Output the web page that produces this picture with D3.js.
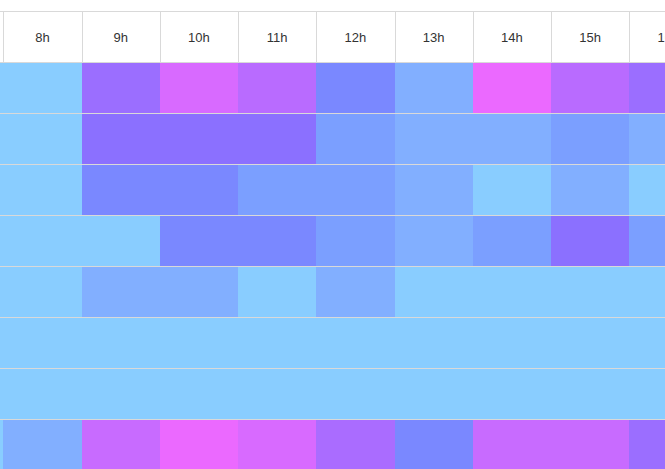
<!DOCTYPE html>
<html lang="en">
<head>
    <meta charset="UTF-8">
    <title>Hourly heatmap</title>
    <script src="https://d3js.org/d3.v7.min.js"></script>
    <style>
        html, body { margin: 0; padding: 0; background: #fff; overflow: hidden; }
        .hour-label { font-family: "Liberation Sans", Arial, sans-serif; font-size: 13px; fill: #333; }
        .grid { stroke: #d9d9d9; stroke-width: 1; shape-rendering: crispEdges; }
        .cell { shape-rendering: crispEdges; }
    </style>
</head>
<body>
<svg width="665" height="469"></svg>
<script>
    // Hours shown in the header (7h and 16h are only partly visible)
    const hours = ["7h", "8h", "9h", "10h", "11h", "12h", "13h", "14h", "15h", "16h"];
    const rows = ["r1", "r2", "r3", "r4", "r5", "r6", "r7", "r8"];

    // Intensity level per row, one value per hour
    const r1 = [0, 0, 5, 9, 7, 3, 1, 10, 7, 5];
    const r2 = [0, 0, 4, 4, 4, 2, 1, 1, 2, 1];
    const r3 = [0, 0, 3, 3, 2, 2, 1, 0, 1, 0];
    const r4 = [0, 0, 0, 3, 3, 2, 1, 2, 4, 2];
    const r5 = [0, 0, 1, 1, 0, 1, 0, 0, 0, 0];
    const r6 = [0, 0, 0, 0, 0, 0, 0, 0, 0, 0];
    const r7 = [0, 0, 0, 0, 0, 0, 0, 0, 0, 0];
    const r8 = [0, 1, 8, 10, 9, 6, 3, 8, 8, 5];
    const values = [r1, r2, r3, r4, r5, r6, r7, r8];

    // colour ramp: light sky blue -> blue -> violet -> magenta
    const palette = ["#89cdff", "#82afff", "#7b9fff", "#7a88ff", "#8b70ff", "#9b6eff",
                     "#aa6cff", "#b96bff", "#c86bff", "#d86aff", "#eb69ff"];

    const svg = d3.select("svg");
    const W = 665, H = 469;
    const colW = 78.25;
    const headTop = 11, headBottom = 62, rowH = 51;

    const x = d3.scaleBand()
        .domain(hours)
        .range([3.3 - colW, 3.3 - colW + colW * hours.length]);

    const y = d3.scaleBand()
        .domain(rows)
        .range([headBottom, headBottom + rowH * rows.length]);

    const color = d3.scaleLinear()
        .domain(d3.range(palette.length))
        .range(palette);

    const cells = [];
    values.forEach((vals, i) => vals.forEach((v, j) => cells.push({ row: rows[i], hour: hours[j], v })));

    // cells (overlap a little so equal neighbours merge)
    svg.append("g").selectAll("rect")
        .data(cells)
        .join("rect")
        .attr("class", "cell")
        .attr("x", d => Math.round(x(d.hour)))
        .attr("y", d => y(d.row))
        .attr("width", Math.round(x.bandwidth()) + 1)
        .attr("height", y.bandwidth())
        .attr("fill", d => color(d.v));

    // row separators
    svg.append("g").selectAll("line")
        .data(rows.slice(1))
        .join("line")
        .attr("class", "grid")
        .attr("x1", 0).attr("x2", W)
        .attr("y1", d => y(d) + 0.5).attr("y2", d => y(d) + 0.5);

    // header
    const head = svg.append("g");
    head.append("rect")
        .attr("x", 0).attr("y", headTop)
        .attr("width", W).attr("height", headBottom - headTop)
        .attr("fill", "#fff");
    head.selectAll("line.h")
        .data([headTop, headBottom])
        .join("line")
        .attr("class", "grid")
        .attr("x1", 0).attr("x2", W)
        .attr("y1", d => d + 0.5).attr("y2", d => d + 0.5);
    head.selectAll("line.v")
        .data(hours.slice(1))
        .join("line")
        .attr("class", "grid")
        .attr("x1", d => Math.round(x(d)) + 0.5).attr("x2", d => Math.round(x(d)) + 0.5)
        .attr("y1", headTop).attr("y2", headBottom);

    const axis = head.append("g")
        .attr("transform", `translate(0,${headTop + 31})`)
        .call(d3.axisTop(x).tickSize(0).tickPadding(0));
    axis.select(".domain").remove();
    axis.selectAll("text")
        .attr("class", "hour-label")
        .attr("dy", 0)
        .attr("font-family", null)
        .attr("font-size", null)
        .attr("fill", null);
    axis.attr("font-family", null).attr("font-size", null);
</script>
</body>
</html>
